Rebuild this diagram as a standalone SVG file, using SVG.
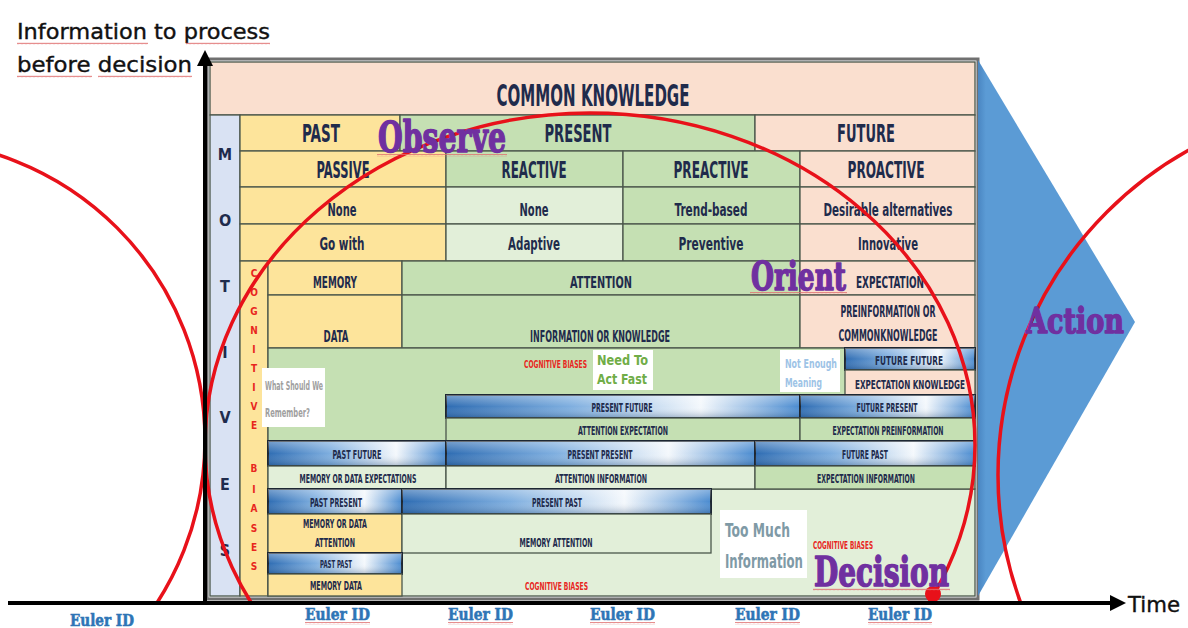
<svg xmlns="http://www.w3.org/2000/svg" width="1188" height="628" viewBox="0 0 1188 628">
  <defs>
    <style>
      .cell{stroke:#4b564b;stroke-width:1.3}
      .y{fill:#fde49b}
      .g{fill:#c5e0b3}
      .lg{fill:#e2efd9}
      .p{fill:#fadfcf}
      .mo{fill:#d9e2f3}
      .bar{fill:url(#barH);stroke:#1d2733;stroke-width:2}
      .barS{fill:url(#barV);stroke:none}
      .t{font-family:"DejaVu Sans Condensed","DejaVu Sans",sans-serif;font-weight:bold;fill:#1f2b4c;text-anchor:middle}
      .tl{font-family:"DejaVu Sans Condensed","DejaVu Sans",sans-serif;font-weight:bold}
      .red{fill:#e8261e}
      .big{font-family:"DejaVu Serif",serif;font-weight:bold;fill:#7030a0;stroke:#7030a0;stroke-width:1.6;stroke-linejoin:round}
      .euler{font-family:"DejaVu Serif",serif;font-weight:bold;fill:#2e75b6;stroke:#2e75b6;stroke-width:0.6;font-size:17px}
      .arc{fill:none;stroke:#e8111a;stroke-width:3.5}
      .note{fill:#ffffff}
      .title{font-family:"DejaVu Sans","Liberation Sans",sans-serif;fill:#111111;stroke:#111111;stroke-width:0.4;font-size:22px}
      .sq{fill:url(#squiggle)}
    </style>
    <linearGradient id="barH" x1="0" y1="0" x2="1" y2="0">
      <stop offset="0" stop-color="#2f6db3"/>
      <stop offset="0.35" stop-color="#7eaedf"/>
      <stop offset="0.72" stop-color="#f4f8fc"/>
      <stop offset="1" stop-color="#4a8bd0"/>
    </linearGradient>
    <linearGradient id="barV" x1="0" y1="0" x2="0" y2="1">
      <stop offset="0" stop-color="#ffffff" stop-opacity="0.35"/>
      <stop offset="0.5" stop-color="#ffffff" stop-opacity="0"/>
      <stop offset="1" stop-color="#0b2f5c" stop-opacity="0.3"/>
    </linearGradient>
    <linearGradient id="tri" x1="0" y1="0" x2="1" y2="0">
      <stop offset="0" stop-color="#4a86c2"/>
      <stop offset="0.05" stop-color="#5b9bd5"/>
      <stop offset="1" stop-color="#5b9bd5"/>
    </linearGradient>
    <pattern id="squiggle" width="4" height="3" patternUnits="userSpaceOnUse">
      <path d="M0 2.2 L1 0.8 L2 2.2 L3 0.8 L4 2.2" fill="none" stroke="#e07070" stroke-width="0.8"/>
    </pattern>
    <clipPath id="aboveAxis">
      <rect x="0" y="0" width="1188" height="603"/>
    </clipPath>
  </defs>

  <rect width="1188" height="628" fill="#ffffff"/>

  <!-- axis title -->
  <g id="axis-title">
    <text class="title" x="17" y="39" textLength="253" lengthAdjust="spacingAndGlyphs">Information to process</text>
    <text class="title" x="17" y="72" textLength="175" lengthAdjust="spacingAndGlyphs">before decision</text>
    <rect class="sq" x="17" y="42" width="131" height="3"/>
    <rect class="sq" x="186" y="42" width="84" height="3"/>
    <rect class="sq" x="17" y="75" width="75" height="3"/>
    <rect class="sq" x="98" y="75" width="94" height="3"/>
  </g>

  <!-- table frame -->
  <g id="table">
    <rect x="207" y="59" width="771" height="540" fill="#eef0f2" stroke="#707070" stroke-width="3"/>

    <g id="common-knowledge">
      <rect class="cell p" x="210" y="62" width="765" height="53"/>
      <text class="t" x="593" y="106" font-size="30" textLength="193" lengthAdjust="spacingAndGlyphs">COMMON KNOWLEDGE</text>
    </g>

    <g id="motives">
      <rect class="cell mo" x="210" y="115" width="30" height="481"/>
      <text class="t" x="225" y="160" font-size="16">M</text>
      <text class="t" x="225" y="226" font-size="16">O</text>
      <text class="t" x="225" y="292" font-size="16">T</text>
      <text class="t" x="225" y="358" font-size="16">I</text>
      <text class="t" x="225" y="423" font-size="16">V</text>
      <text class="t" x="225" y="490" font-size="16">E</text>
      <text class="t" x="225" y="556" font-size="16">S</text>
    </g>

    <g id="time-row">
      <rect class="cell y" x="240" y="115" width="160" height="36"/>
      <rect class="cell g" x="400" y="115" width="355" height="36"/>
      <rect class="cell p" x="755" y="115" width="220" height="36"/>
      <text class="t" x="321" y="142" font-size="25" textLength="38" lengthAdjust="spacingAndGlyphs">PAST</text>
      <text class="t" x="578" y="142" font-size="25" textLength="67" lengthAdjust="spacingAndGlyphs">PRESENT</text>
      <text class="t" x="866" y="142" font-size="25" textLength="58" lengthAdjust="spacingAndGlyphs">FUTURE</text>
    </g>

    <g id="stance-row">
      <rect class="cell y" x="240" y="151" width="206" height="36"/>
      <rect class="cell g" x="446" y="151" width="177" height="36"/>
      <rect class="cell g" x="623" y="151" width="177" height="36"/>
      <rect class="cell p" x="800" y="151" width="175" height="36"/>
      <text class="t" x="343" y="178" font-size="23" textLength="53" lengthAdjust="spacingAndGlyphs">PASSIVE</text>
      <text class="t" x="534" y="178" font-size="23" textLength="65" lengthAdjust="spacingAndGlyphs">REACTIVE</text>
      <text class="t" x="711" y="178" font-size="23" textLength="75" lengthAdjust="spacingAndGlyphs">PREACTIVE</text>
      <text class="t" x="886" y="178" font-size="23" textLength="77" lengthAdjust="spacingAndGlyphs">PROACTIVE</text>
    </g>

    <g id="mode-rows">
      <rect class="cell y" x="240" y="187" width="206" height="37"/>
      <rect class="cell lg" x="446" y="187" width="177" height="37"/>
      <rect class="cell g" x="623" y="187" width="177" height="37"/>
      <rect class="cell p" x="800" y="187" width="175" height="37"/>
      <rect class="cell y" x="240" y="224" width="206" height="37"/>
      <rect class="cell lg" x="446" y="224" width="177" height="37"/>
      <rect class="cell g" x="623" y="224" width="177" height="37"/>
      <rect class="cell p" x="800" y="224" width="175" height="37"/>
      <text class="t" x="342" y="216" font-size="18" textLength="29" lengthAdjust="spacingAndGlyphs">None</text>
      <text class="t" x="534" y="216" font-size="18" textLength="29" lengthAdjust="spacingAndGlyphs">None</text>
      <text class="t" x="711" y="216" font-size="18" textLength="73" lengthAdjust="spacingAndGlyphs">Trend-based</text>
      <text class="t" x="888" y="216" font-size="18" textLength="129" lengthAdjust="spacingAndGlyphs">Desirable alternatives</text>
      <text class="t" x="342" y="250" font-size="18" textLength="45" lengthAdjust="spacingAndGlyphs">Go with</text>
      <text class="t" x="534" y="250" font-size="18" textLength="52" lengthAdjust="spacingAndGlyphs">Adaptive</text>
      <text class="t" x="711" y="250" font-size="18" textLength="65" lengthAdjust="spacingAndGlyphs">Preventive</text>
      <text class="t" x="888" y="250" font-size="18" textLength="60" lengthAdjust="spacingAndGlyphs">Innovative</text>
    </g>

    <g id="cognitive-biases-column">
      <rect class="cell y" x="240" y="261" width="28" height="335"/>
      <g class="tl red" font-size="10" text-anchor="middle">
        <text x="254" y="277">C</text><text x="254" y="296">O</text><text x="254" y="315">G</text>
        <text x="254" y="334">N</text><text x="254" y="353">I</text><text x="254" y="372">T</text>
        <text x="254" y="391">I</text><text x="254" y="410">V</text><text x="254" y="429">E</text>
        <text x="254" y="472">B</text><text x="254" y="493">I</text><text x="254" y="512">A</text>
        <text x="254" y="532">S</text><text x="254" y="551">E</text><text x="254" y="570">S</text>
      </g>
    </g>

    <g id="faculty-rows">
      <rect class="cell y" x="268" y="261" width="134" height="34"/>
      <rect class="cell g" x="402" y="261" width="398" height="34"/>
      <rect class="cell p" x="800" y="261" width="175" height="34"/>
      <rect class="cell y" x="268" y="295" width="134" height="53"/>
      <rect class="cell g" x="402" y="295" width="398" height="53"/>
      <rect class="cell p" x="800" y="295" width="175" height="53"/>
      <text class="t" x="335" y="288" font-size="16" textLength="44" lengthAdjust="spacingAndGlyphs">MEMORY</text>
      <text class="t" x="601" y="288" font-size="16" textLength="62" lengthAdjust="spacingAndGlyphs">ATTENTION</text>
      <text class="t" x="890" y="288" font-size="16" textLength="68" lengthAdjust="spacingAndGlyphs">EXPECTATION</text>
      <text class="t" x="336" y="342" font-size="16" textLength="25" lengthAdjust="spacingAndGlyphs">DATA</text>
      <text class="t" x="600" y="342" font-size="16" textLength="140" lengthAdjust="spacingAndGlyphs">INFORMATION OR KNOWLEDGE</text>
      <text class="t" x="888" y="317" font-size="16" textLength="95" lengthAdjust="spacingAndGlyphs">PREINFORMATION OR</text>
      <text class="t" x="888" y="341" font-size="16" textLength="99" lengthAdjust="spacingAndGlyphs">COMMONKNOWLEDGE</text>
    </g>

    <!-- green field holding the upper combination bars -->
    <rect class="g" x="268" y="348" width="707" height="93" stroke="#4b564b" stroke-width="1.3"/>
    <!-- light green field holding the lower combination bars -->
    <rect class="lg" x="268" y="489" width="707" height="107" stroke="#4b564b" stroke-width="1.3"/>

    <g id="future-future">
      <rect class="bar" x="845" y="348" width="130" height="22"/>
      <rect class="barS" x="845" y="348" width="130" height="22"/>
      <text class="t" x="909" y="365" font-size="13" textLength="68" lengthAdjust="spacingAndGlyphs">FUTURE FUTURE</text>
      <rect class="cell p" x="845" y="370" width="130" height="25"/>
      <text class="t" x="910" y="389" font-size="13" textLength="110" lengthAdjust="spacingAndGlyphs">EXPECTATION KNOWLEDGE</text>
    </g>

    <g id="present-future">
      <rect class="bar" x="446" y="395" width="354" height="23"/>
      <rect class="barS" x="446" y="395" width="354" height="23"/>
      <text class="t" x="622" y="412" font-size="12" textLength="61" lengthAdjust="spacingAndGlyphs">PRESENT FUTURE</text>
      <rect class="cell g" x="446" y="418" width="354" height="23"/>
      <text class="t" x="623" y="435" font-size="12" textLength="90" lengthAdjust="spacingAndGlyphs">ATTENTION EXPECTATION</text>
    </g>

    <g id="future-present">
      <rect class="bar" x="800" y="395" width="175" height="23"/>
      <rect class="barS" x="800" y="395" width="175" height="23"/>
      <text class="t" x="887" y="412" font-size="12" textLength="61" lengthAdjust="spacingAndGlyphs">FUTURE PRESENT</text>
      <rect class="cell g" x="800" y="418" width="175" height="23"/>
      <text class="t" x="888" y="435" font-size="12" textLength="111" lengthAdjust="spacingAndGlyphs">EXPECTATION PREINFORMATION</text>
    </g>

    <g id="past-future">
      <rect class="bar" x="268" y="441" width="178" height="25"/>
      <rect class="barS" x="268" y="441" width="178" height="25"/>
      <text class="t" x="357" y="459" font-size="12" textLength="49" lengthAdjust="spacingAndGlyphs">PAST FUTURE</text>
      <rect class="cell lg" x="268" y="466" width="178" height="23"/>
      <text class="t" x="358" y="483" font-size="12" textLength="117" lengthAdjust="spacingAndGlyphs">MEMORY OR DATA EXPECTATIONS</text>
    </g>

    <g id="present-present">
      <rect class="bar" x="446" y="441" width="309" height="25"/>
      <rect class="barS" x="446" y="441" width="309" height="25"/>
      <text class="t" x="600" y="459" font-size="12" textLength="65" lengthAdjust="spacingAndGlyphs">PRESENT PRESENT</text>
      <rect class="cell lg" x="446" y="466" width="309" height="23"/>
      <text class="t" x="601" y="483" font-size="12" textLength="92" lengthAdjust="spacingAndGlyphs">ATTENTION INFORMATION</text>
    </g>

    <g id="future-past">
      <rect class="bar" x="755" y="441" width="220" height="25"/>
      <rect class="barS" x="755" y="441" width="220" height="25"/>
      <text class="t" x="865" y="459" font-size="12" textLength="46" lengthAdjust="spacingAndGlyphs">FUTURE PAST</text>
      <rect class="cell g" x="755" y="466" width="220" height="23"/>
      <text class="t" x="866" y="483" font-size="12" textLength="98" lengthAdjust="spacingAndGlyphs">EXPECTATION INFORMATION</text>
    </g>

    <g id="past-present">
      <rect class="bar" x="268" y="489" width="134" height="25"/>
      <rect class="barS" x="268" y="489" width="134" height="25"/>
      <text class="t" x="336" y="507" font-size="12" textLength="52" lengthAdjust="spacingAndGlyphs">PAST PRESENT</text>
      <rect class="cell y" x="268" y="514" width="134" height="39"/>
      <text class="t" x="335" y="528" font-size="12" textLength="64" lengthAdjust="spacingAndGlyphs">MEMORY OR DATA</text>
      <text class="t" x="335" y="547" font-size="12" textLength="40" lengthAdjust="spacingAndGlyphs">ATTENTION</text>
    </g>

    <g id="present-past">
      <rect class="bar" x="402" y="489" width="309" height="25"/>
      <rect class="barS" x="402" y="489" width="309" height="25"/>
      <text class="t" x="557" y="507" font-size="12" textLength="50" lengthAdjust="spacingAndGlyphs">PRESENT PAST</text>
      <rect class="cell lg" x="402" y="514" width="309" height="39"/>
      <text class="t" x="556" y="547" font-size="12" textLength="73" lengthAdjust="spacingAndGlyphs">MEMORY ATTENTION</text>
    </g>

    <g id="past-past">
      <rect class="bar" x="268" y="553" width="134" height="21"/>
      <rect class="barS" x="268" y="553" width="134" height="21"/>
      <text class="t" x="336" y="568" font-size="11" textLength="32" lengthAdjust="spacingAndGlyphs">PAST PAST</text>
      <rect class="cell y" x="268" y="574" width="134" height="22"/>
      <text class="t" x="336" y="590" font-size="12" textLength="52" lengthAdjust="spacingAndGlyphs">MEMORY DATA</text>
    </g>

    <g id="bias-labels" class="tl red" font-size="11">
      <text x="524" y="368" textLength="63" lengthAdjust="spacingAndGlyphs">COGNITIVE BIASES</text>
      <text x="525" y="590" textLength="63" lengthAdjust="spacingAndGlyphs">COGNITIVE BIASES</text>
      <text x="813" y="549" textLength="60" lengthAdjust="spacingAndGlyphs">COGNITIVE BIASES</text>
    </g>

    <g id="what-should-we-remember">
      <rect class="note" x="262" y="368" width="63" height="59"/>
      <text class="tl" x="265" y="390" font-size="13" fill="#a0a0a0" textLength="58" lengthAdjust="spacingAndGlyphs">What Should We</text>
      <text class="tl" x="265" y="417" font-size="13" fill="#a0a0a0" textLength="45" lengthAdjust="spacingAndGlyphs">Remember?</text>
    </g>

    <g id="need-to-act-fast">
      <rect class="note" x="593" y="350" width="60" height="40"/>
      <text class="tl" x="597" y="365" font-size="14" fill="#70ad47" textLength="51" lengthAdjust="spacingAndGlyphs">Need To</text>
      <text class="tl" x="597" y="384" font-size="14" fill="#70ad47" textLength="50" lengthAdjust="spacingAndGlyphs">Act Fast</text>
    </g>

    <g id="not-enough-meaning">
      <rect class="note" x="780" y="350" width="60" height="42"/>
      <text class="tl" x="785" y="368" font-size="12" fill="#9dc3e6" textLength="52" lengthAdjust="spacingAndGlyphs">Not Enough</text>
      <text class="tl" x="785" y="387" font-size="12" fill="#9dc3e6" textLength="37" lengthAdjust="spacingAndGlyphs">Meaning</text>
    </g>

    <g id="too-much-information">
      <rect class="note" x="720" y="510" width="87" height="68"/>
      <text class="tl" x="725" y="537" font-size="19" fill="#7f9aa6" font-weight="normal" textLength="65" lengthAdjust="spacingAndGlyphs">Too Much</text>
      <text class="tl" x="725" y="568" font-size="19" fill="#7f9aa6" font-weight="normal" textLength="78" lengthAdjust="spacingAndGlyphs">Information</text>
    </g>
  </g>

  <!-- action arrow -->
  <g id="action">
    <polygon points="978,60 1135,322 978,596" fill="url(#tri)"/>
  </g>

  <!-- OODA loop circles -->
  <g id="loops" clip-path="url(#aboveAxis)">
    <circle class="arc" cx="-95" cy="440" r="300"/>
    <ellipse class="arc" cx="590" cy="445" rx="385" ry="332"/>
    <circle class="arc" cx="1370" cy="475" r="372"/>
  </g>
  <circle id="decision-point" cx="933" cy="594" r="8" fill="#e8111a"/>

  <g id="stage-labels">
    <text class="big" x="378" y="152" font-size="42" textLength="128" lengthAdjust="spacingAndGlyphs">Observe</text>
    <rect class="sq" x="377" y="154" width="130" height="3"/>
    <text class="big" x="751" y="290" font-size="39" textLength="95" lengthAdjust="spacingAndGlyphs">Orient</text>
    <rect class="sq" x="750" y="292" width="97" height="3"/>
    <text class="big" x="1026" y="333" font-size="36" textLength="98" lengthAdjust="spacingAndGlyphs">Action</text>
    <text class="big" x="814" y="586" font-size="41" textLength="135" lengthAdjust="spacingAndGlyphs">Decision</text>
    <rect class="sq" x="813" y="588" width="137" height="3"/>
  </g>

  <!-- axes -->
  <g id="axes">
    <line x1="205" y1="64" x2="205" y2="605" stroke="#000" stroke-width="4"/>
    <polygon points="205,50 197,66 213,66" fill="#000"/>
    <line x1="8" y1="603" x2="1112" y2="603" stroke="#000" stroke-width="4"/>
    <polygon points="1126,603 1110,595 1110,611" fill="#000"/>
    <text class="title" x="1128" y="612" font-size="22" textLength="52" lengthAdjust="spacingAndGlyphs">Time</text>
  </g>

  <g id="euler-ids">
    <text class="euler" x="70" y="626" textLength="64" lengthAdjust="spacingAndGlyphs">Euler ID</text>
    <text class="euler" x="305" y="620" textLength="65" lengthAdjust="spacingAndGlyphs">Euler ID</text>
    <text class="euler" x="448" y="620" textLength="65" lengthAdjust="spacingAndGlyphs">Euler ID</text>
    <text class="euler" x="590" y="620" textLength="65" lengthAdjust="spacingAndGlyphs">Euler ID</text>
    <text class="euler" x="735" y="620" textLength="65" lengthAdjust="spacingAndGlyphs">Euler ID</text>
    <text class="euler" x="868" y="620" textLength="64" lengthAdjust="spacingAndGlyphs">Euler ID</text>
    <rect class="sq" x="305" y="622" width="65" height="3"/>
    <rect class="sq" x="448" y="622" width="65" height="3"/>
    <rect class="sq" x="590" y="622" width="65" height="3"/>
    <rect class="sq" x="735" y="622" width="65" height="3"/>
    <rect class="sq" x="868" y="622" width="64" height="3"/>
  </g>
</svg>
